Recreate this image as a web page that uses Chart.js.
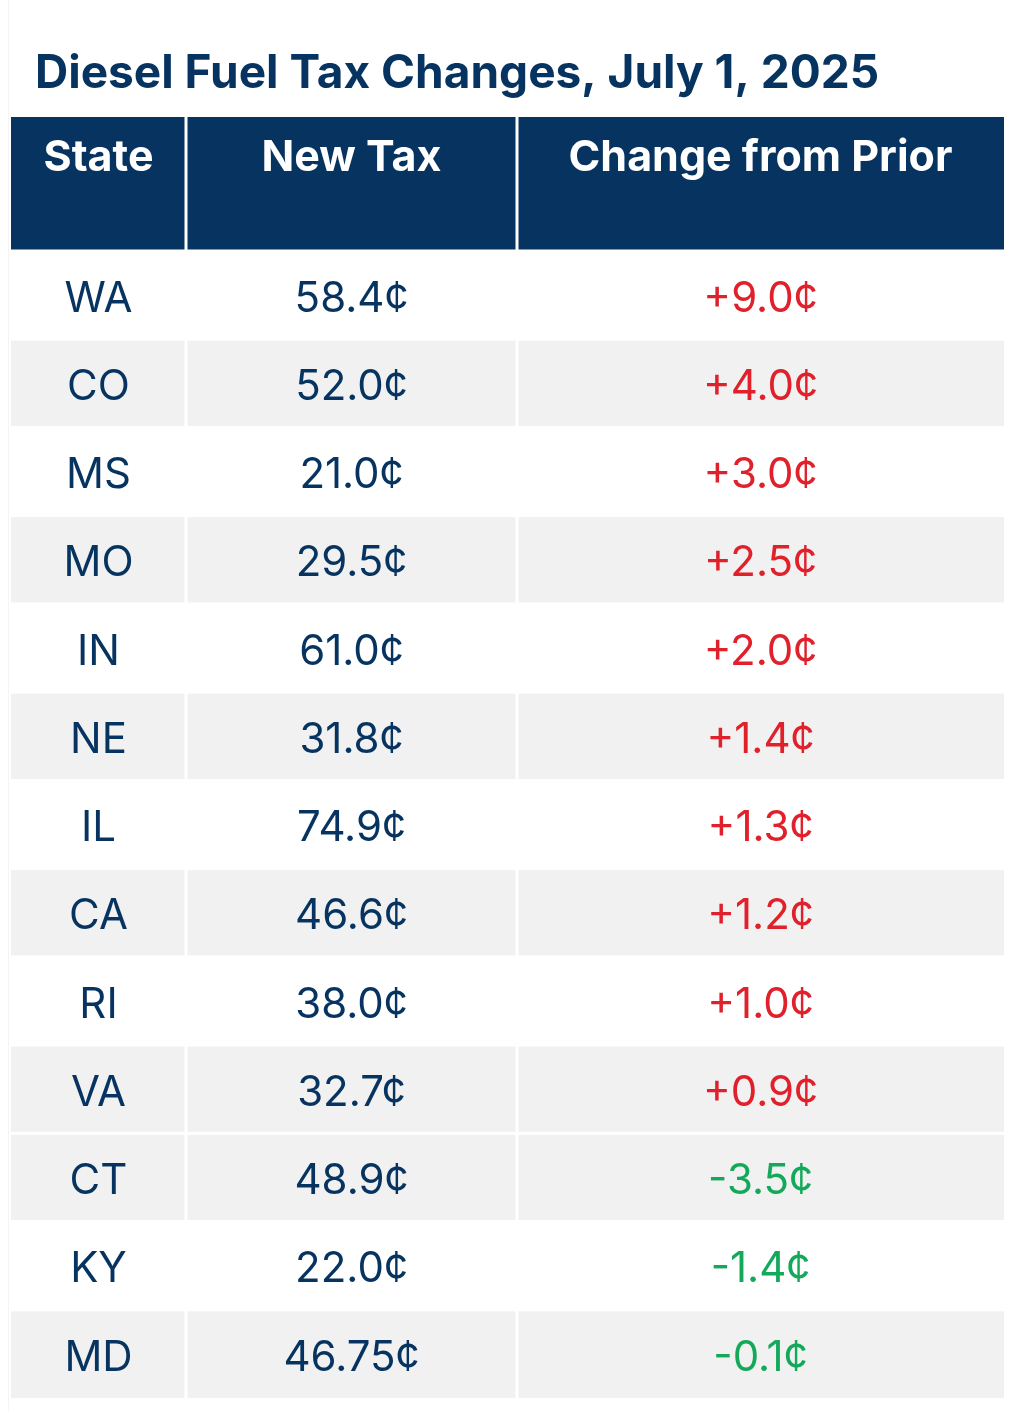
<!DOCTYPE html>
<html><head><meta charset="utf-8">
<script src="https://cdn.jsdelivr.net/npm/chart.js@4"></script>
<style>html,body{margin:0;padding:0;background:#fff}#w{width:1017px;height:1411px;position:relative}</style>
</head><body><div id="w"><canvas id="c"></canvas></div>
<script>
const title = "Diesel Fuel Tax Changes, July 1, 2025";
const headers = ["State", "New Tax", "Change from Prior"];
const states = ["WA","CO","MS","MO","IN","NE","IL","CA","RI","VA","CT","KY","MD"];
const newTax = ["58.4¢","52.0¢","21.0¢","29.5¢","61.0¢","31.8¢","74.9¢","46.6¢","38.0¢","32.7¢","48.9¢","22.0¢","46.75¢"];
const changes = [9.0,4.0,3.0,2.5,2.0,1.4,1.3,1.2,1.0,0.9,-3.5,-1.4,-0.1];

const NAVY = "#06335f", RED = "#e0202a", GREEN = "#14a95a";
const FONT = "Inter, 'Open Sans', sans-serif";
const colEdges = [11, 186, 517, 1004];
const shadedRows = new Set([1, 3, 5, 7, 9, 10, 12]);
const fmt = v => (v > 0 ? "+" : "") + v.toFixed(1) + "¢";

const tablePlugin = {
  id: "table",
  beforeDraw(chart) {
    const ctx = chart.ctx, y = chart.scales.y, x = chart.scales.x;
    ctx.save();
    ctx.fillStyle = "#fff"; ctx.fillRect(0, 0, chart.width, chart.height);
    ctx.fillStyle = "#f4f4f4"; ctx.fillRect(8, 0, 1, chart.height);
    ctx.fillStyle = NAVY; ctx.font = "bold 46px " + FONT; ctx.textBaseline = "alphabetic"; ctx.textAlign = "left";
    ctx.fillText(title, 35, 88);
    const ex = colEdges.map(v => x.getPixelForValue(v));
    const band = y.getPixelForValue(1) - y.getPixelForValue(0);
    const top = y.getPixelForValue(0) - band / 2;
    ctx.fillStyle = NAVY; ctx.fillRect(ex[0], 117, ex[3] - ex[0], top - 117);
    ctx.fillStyle = "#fff";
    for (let i = 1; i < 3; i++) ctx.fillRect(ex[i] - 1.5, 117, 3, top - 117);
    ctx.font = "bold 43px " + FONT; ctx.textAlign = "center"; ctx.textBaseline = "middle";
    for (let i = 0; i < 3; i++) ctx.fillText(headers[i], (ex[i] + ex[i + 1]) / 2, 158);
    states.forEach((s, i) => {
      const cy = y.getPixelForValue(i);
      const t = cy - band / 2;
      if (shadedRows.has(i)) { ctx.fillStyle = "#f1f1f1"; ctx.fillRect(ex[0], t, ex[3] - ex[0], band); }
      ctx.fillStyle = "#fff";
      ctx.fillRect(ex[0], t - 1.5, ex[3] - ex[0], 3);
      for (let k = 1; k < 3; k++) ctx.fillRect(ex[k] - 1.5, t, 3, band);
      ctx.font = "42px " + FONT; ctx.textAlign = "center"; ctx.textBaseline = "middle";
      ctx.fillStyle = NAVY;
      ctx.fillText(s, (ex[0] + ex[1]) / 2, cy + 4);
      ctx.fillText(newTax[i], (ex[1] + ex[2]) / 2, cy + 4);
      ctx.fillStyle = changes[i] >= 0 ? RED : GREEN;
      ctx.fillText(fmt(changes[i]), (ex[2] + ex[3]) / 2, cy + 4);
    });
    ctx.restore();
  }
};

new Chart(document.getElementById("c"), {
  type: "bar",
  data: { labels: states, datasets: [{ data: changes.map(() => null) }] },
  options: {
    indexAxis: "y", responsive: true, maintainAspectRatio: false, animation: false,
    layout: { padding: { top: 251, bottom: 13, left: 0, right: 0 } },
    plugins: { legend: { display: false }, tooltip: { enabled: false } },
    scales: {
      x: { type: "linear", min: 0, max: 1017, display: false },
      y: { type: "category", display: false, offset: true }
    }
  },
  plugins: [tablePlugin]
});
</script></body></html>
